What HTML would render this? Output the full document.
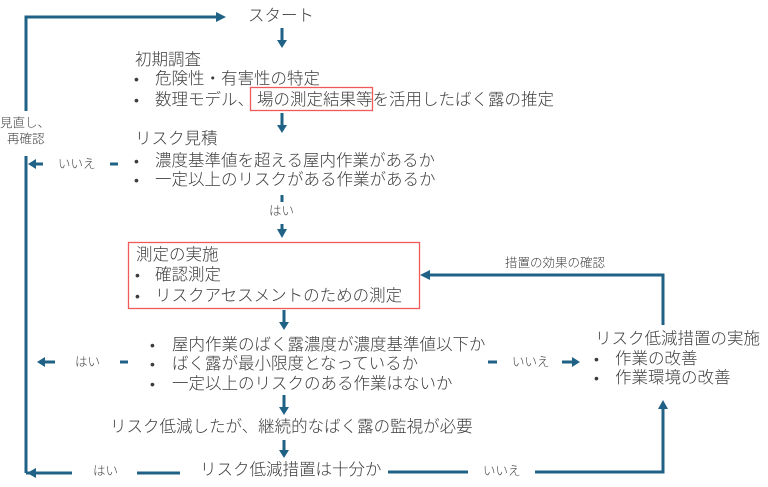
<!DOCTYPE html>
<html><head><meta charset="utf-8">
<style>
html,body{margin:0;padding:0;background:#fff;}
body{width:768px;height:487px;position:relative;overflow:hidden;font-family:"Liberation Sans","Noto Sans CJK JP",sans-serif;color:#3c3c3c;}
.t{position:absolute;font-size:16.5px;line-height:20px;height:20px;white-space:nowrap;font-weight:300;}
.s{position:absolute;font-size:12.5px;line-height:16px;height:16px;white-space:nowrap;color:#444;font-weight:300;}
.b{position:absolute;font-size:14px;line-height:20px;height:20px;}
svg{position:absolute;left:0;top:0;}
</style></head><body>
<svg width="768" height="487" viewBox="0 0 768 487">
<g stroke="#1f6286" stroke-width="3" fill="none">
<polyline points="26,111 26,17 218,17"/>
<line x1="26" y1="156" x2="26" y2="473"/>
<line x1="26" y1="473" x2="72" y2="473"/>
<line x1="137" y1="473" x2="180" y2="473"/>
<line x1="388" y1="472" x2="468" y2="472"/>
<polyline points="535,472 663,472 663,408"/>
<polyline points="663,325 663,275 428,275"/>
<line x1="282" y1="28" x2="282" y2="42"/>
<line x1="282" y1="113" x2="282" y2="127"/>
<line x1="282" y1="195" x2="282" y2="202"/>
<line x1="282" y1="224" x2="282" y2="231"/>
<line x1="284" y1="310" x2="284" y2="324"/>
<line x1="284" y1="395" x2="284" y2="409"/>
<line x1="284" y1="440" x2="284" y2="452"/>
<line x1="110" y1="164" x2="118" y2="164"/>
<line x1="43" y1="164" x2="34" y2="164"/>
<line x1="120" y1="362" x2="128" y2="362"/>
<line x1="55" y1="362" x2="43" y2="362"/>
<line x1="488" y1="362" x2="497" y2="362"/>
<line x1="562" y1="362" x2="574" y2="362"/>
</g>
<g fill="#1f6286">
<polygon points="216,12 226,17 216,22"/>
<polygon points="277,40 287,40 282,48"/>
<polygon points="277,125 287,125 282,133"/>
<polygon points="277,229 287,229 282,238"/>
<polygon points="279,322 289,322 284,330"/>
<polygon points="279,407 289,407 284,415"/>
<polygon points="279,450 289,450 284,458"/>
<polygon points="36,159 36,169 28,164"/>
<polygon points="45,357 45,367 37,362"/>
<polygon points="572,357 572,367 580,362"/>
<polygon points="430,270 430,280 420,275"/>
<polygon points="658,409 668,409 663,400"/>
<polygon points="36,468 36,478 27,473"/>
</g>
<g fill="none" stroke="#ef5b5b" stroke-width="1.3">
<rect x="250.5" y="87.5" width="122" height="23"/>
<rect x="128.5" y="242.5" width="291" height="66"/>
</g>
</svg>

<div class="t" style="left:248px;top:6px;">スタート</div>

<div class="t" style="left:135px;top:50px;">初期調査</div>
<div class="b" style="left:134px;top:69px;">•</div>
<div class="t" style="left:155px;top:69px;">危険性・有害性の特定</div>
<div class="b" style="left:134px;top:90px;">•</div>
<div class="t" style="left:155px;top:90px;">数理モデル、<span style="margin-left:3px">場の測定結果等</span>を活用したばく露の推定</div>

<div class="t" style="left:135px;top:129px;">リスク見積</div>
<div class="b" style="left:134px;top:151px;">•</div>
<div class="t" style="left:155px;top:151px;">濃度基準値を超える屋内作業があるか</div>
<div class="b" style="left:134px;top:170px;">•</div>
<div class="t" style="left:155px;top:170px;">一定以上のリスクがある作業があるか</div>

<div class="s" style="left:0px;top:115px;">見直し、</div>
<div class="s" style="left:7px;top:131px;">再確認</div>
<div class="s" style="left:58px;top:156px;">いいえ</div>
<div class="s" style="left:269px;top:203px;">はい</div>

<div class="t" style="left:136px;top:245px;">測定の実施</div>
<div class="b" style="left:135px;top:265px;">•</div>
<div class="t" style="left:155px;top:265px;">確認測定</div>
<div class="b" style="left:135px;top:286px;">•</div>
<div class="t" style="left:155px;top:286px;">リスクアセスメントのための測定</div>

<div class="s" style="left:505px;top:255px;">措置の効果の確認</div>

<div class="b" style="left:150px;top:335px;">•</div>
<div class="t" style="left:172px;top:335px;">屋内作業のばく露濃度が濃度基準値以下か</div>
<div class="b" style="left:150px;top:354px;">•</div>
<div class="t" style="left:172px;top:354px;">ばく露が最小限度となっているか</div>
<div class="b" style="left:150px;top:374px;">•</div>
<div class="t" style="left:172px;top:374px;">一定以上のリスクのある作業はないか</div>

<div class="s" style="left:75px;top:354px;">はい</div>
<div class="s" style="left:512px;top:354px;">いいえ</div>

<div class="t" style="left:595px;top:329px;">リスク低減措置の実施</div>
<div class="b" style="left:594px;top:349px;">•</div>
<div class="t" style="left:615px;top:349px;">作業の改善</div>
<div class="b" style="left:594px;top:368px;">•</div>
<div class="t" style="left:615px;top:368px;">作業環境の改善</div>

<div class="t" style="left:110px;top:417px;">リスク低減したが、継続的なばく露の監視が必要</div>

<div class="s" style="left:93px;top:463px;">はい</div>
<div class="t" style="left:200px;top:460px;">リスク低減措置は十分か</div>
<div class="s" style="left:483px;top:463px;">いいえ</div>
</body></html>
